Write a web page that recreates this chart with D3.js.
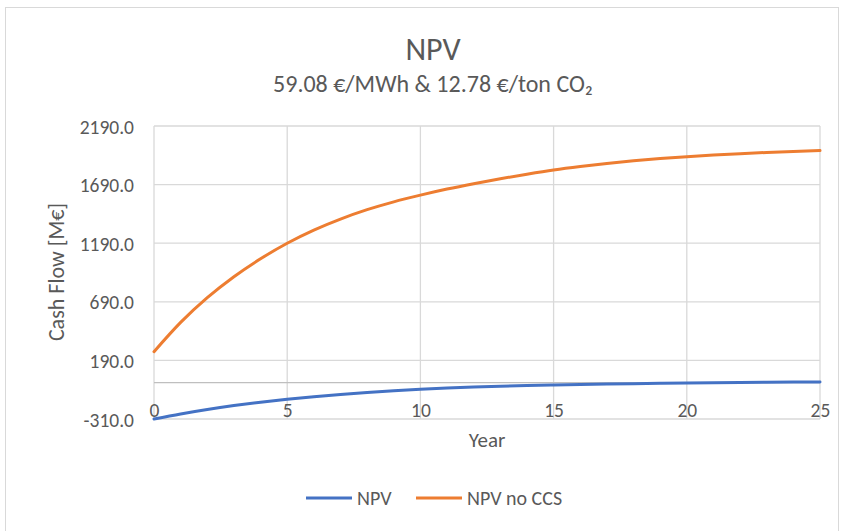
<!DOCTYPE html>
<html>
<head>
<meta charset="utf-8">
<script src="https://cdn.jsdelivr.net/npm/d3@7"></script>
<style>
  html, body { margin: 0; padding: 0; background: #fff; }
  svg { display: block; }
  text { font-family: Carlito, Calibri, Lato, "Noto Sans", sans-serif; fill: #595959; }
</style>
</head>
<body>
<svg id="chart" width="845" height="531"></svg>
<script>
// ---- data ----
const years = [0,1,2,3,4,5,6,7,8,9,10,11,12,13,14,15,16,17,18,19,20,21,22,23,24,25];
const npv = [-310,-266.5,-228.5,-195.5,-166.8,-141.8,-119.8,-100.6,-83.9,-69.4,-56.8,-46.3,-37.7,-30.5,-24.6,-19.8,-15.5,-11.7,-8.4,-5.5,-2.8,-0.6,1.3,3.1,4.7,6.2];
const npvNoCCS = [264,514,725,904,1057,1190,1302,1396,1476,1543,1600,1652,1698,1740,1779,1815,1845,1871,1893,1912,1928,1942,1954,1964,1973,1980];
const yTicks = [-310,190,690,1190,1690,2190];
const xTicks = [0,5,10,15,20,25];
const seriesNames = ["NPV","NPV no CCS"];
const seriesColors = ["#4472C4","#ED7D31"];
const titleText = "NPV";
const subtitleText = "59.08 €/MWh & 12.78 €/ton CO₂";
const xTitle = "Year";
const yTitle = "Cash Flow [M€]";

const svg = d3.select("#chart");
// chart border
svg.append("rect").attr("x",5.5).attr("y",7.5).attr("width",833).attr("height",540)
  .attr("fill","none").attr("stroke","#d9d9d9").attr("stroke-width",1);

const L = 154, R = 820, T = 126, B = 419;
const x = d3.scaleLinear().domain([0,25]).range([L,R]);
const y = d3.scaleLinear().domain([-310,2190]).range([B,T]);

// gridlines
const g = svg.append("g");
g.selectAll("line.h").data(yTicks).join("line")
  .attr("x1",L).attr("x2",R).attr("y1",d=>y(d)).attr("y2",d=>y(d))
  .attr("stroke","#d9d9d9").attr("stroke-width",1.3);
g.selectAll("line.v").data(xTicks).join("line")
  .attr("y1",T).attr("y2",B).attr("x1",d=>x(d)).attr("x2",d=>x(d))
  .attr("stroke","#d9d9d9").attr("stroke-width",1.3);
// x axis line at zero
g.append("line").attr("x1",L).attr("x2",R).attr("y1",y(0)).attr("y2",y(0))
  .attr("stroke","#bfbfbf").attr("stroke-width",1.3);

const loc = d3.formatLocale({decimal: ".", thousands: ",", grouping: [3], currency: ["", ""], minus: "-"});

// y tick labels via axis
const yAxis = d3.axisLeft(y).tickValues(yTicks).tickFormat(loc.format(".1f")).tickSize(0).tickPadding(0);
const ya = svg.append("g").attr("transform",`translate(${134},0)`).call(yAxis);
ya.select(".domain").remove();
ya.selectAll("text").attr("font-size",19.5).style("fill","#595959").attr("dy","0.36em");

// x tick labels
const xAxis = d3.axisBottom(x).tickValues(xTicks).tickFormat(loc.format("d")).tickSize(0).tickPadding(0);
const xa = svg.append("g").attr("transform",`translate(0,${417})`).call(xAxis);
xa.select(".domain").remove();
xa.selectAll("text").attr("font-size",19.5).style("fill","#595959").attr("y",0).attr("dy","0");

// lines
const line = d3.line().x((d,i)=>x(years[i])).y(d=>y(d)).curve(d3.curveMonotoneX);
[npv, npvNoCCS].forEach((s,k)=>{
  svg.append("path").datum(s).attr("d",line).attr("fill","none")
    .attr("stroke",seriesColors[k]).attr("stroke-width",3).attr("stroke-linecap","round");
});

// titles
svg.append("text").attr("x",433).attr("y",60).attr("text-anchor","middle").attr("font-size",32).text(titleText);
svg.append("text").attr("x",433).attr("y",92).attr("text-anchor","middle").attr("font-size",24).text(subtitleText);
svg.append("text").attr("x",487).attr("y",447).attr("text-anchor","middle").attr("font-size",21).text(xTitle);
svg.append("text").attr("transform","translate(64,272) rotate(-90)").attr("text-anchor","middle").attr("font-size",22).text(yTitle);

// legend
const legendItems = [{x:306, tx:357},{x:416, tx:467}];
seriesNames.forEach((n,k)=>{
  const it = legendItems[k];
  svg.append("line").attr("x1",it.x).attr("x2",it.x+46).attr("y1",498).attr("y2",498)
    .attr("stroke",seriesColors[k]).attr("stroke-width",3);
  svg.append("text").attr("x",it.tx).attr("y",498).attr("dy","0.36em").attr("font-size",20).text(n);
});
</script>
</body>
</html>
